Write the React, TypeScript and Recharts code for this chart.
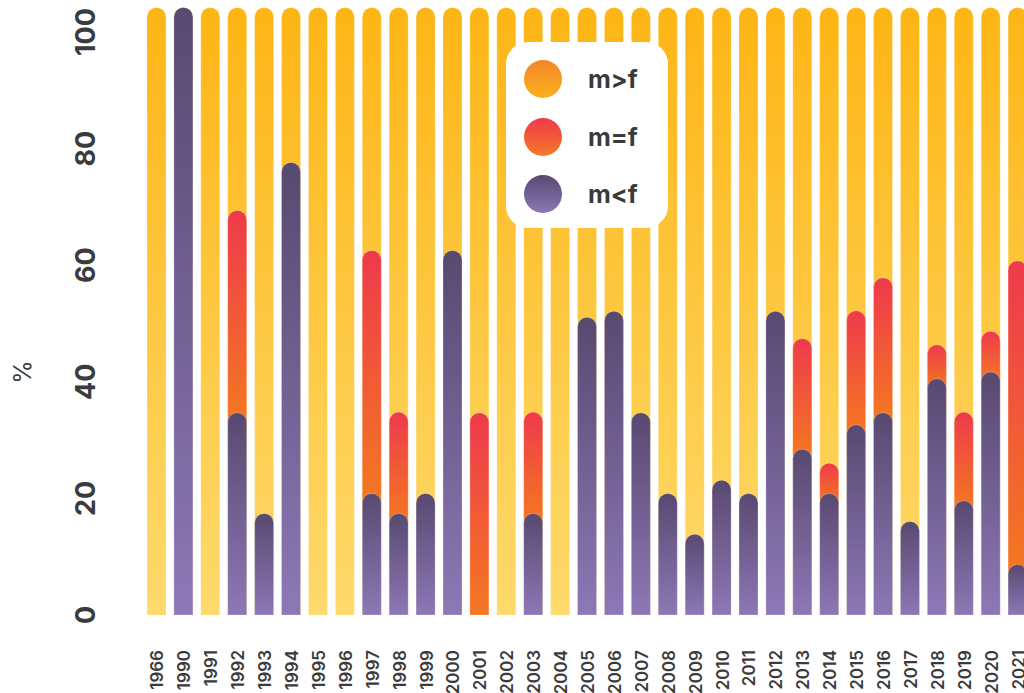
import React from "react";
import { BarChart, Bar, XAxis, YAxis, Legend } from "recharts";

const years = [
  "1966", "1990", "1991", "1992", "1993", "1994", "1995", "1996", "1997", "1998", "1999",
  "2000", "2001", "2002", "2003", "2004", "2005", "2006", "2007", "2008", "2009", "2010",
  "2011", "2012", "2013", "2014", "2015", "2016", "2017", "2018", "2019", "2020", "2021",
];

// share of cases (%)
const mLessF = [
  0, 100, 0, 33.3, 16.7, 74.5, 0, 0, 20, 16.7, 20,
  60, 0, 0, 16.7, 0, 49, 50, 33.3, 20, 13.3, 22.2,
  20, 50, 27.3, 20, 31.3, 33.3, 15.4, 38.9, 18.8, 40, 8.3,
];
const mEqualF = [
  0, 0, 0, 33.3, 0, 0, 0, 0, 40, 16.7, 0,
  0, 33.3, 0, 16.7, 0, 0, 0, 0, 0, 0, 0,
  0, 0, 18.2, 5, 18.8, 22.2, 0, 5.6, 14.6, 6.7, 50,
];
const mGreaterF = [
  100, 0, 100, 33.4, 83.3, 25.5, 100, 100, 40, 66.6, 80,
  40, 66.7, 100, 66.6, 100, 51, 50, 66.7, 80, 86.7, 77.8,
  80, 50, 54.5, 75, 49.9, 44.5, 84.6, 55.5, 66.6, 53.3, 41.7,
];

const yTicks = [0, 20, 40, 60, 80, 100];

const legendItems = [
  { label: "m>f", from: "#F4862A", to: "#FBB01C" },
  { label: "m=f", from: "#EE3A4C", to: "#F47A28" },
  { label: "m<f", from: "#584970", to: "#8C77B6" },
];

const data = years.map((year, i) => ({
  year,
  less: [0, mLessF[i]],
  equal: [mLessF[i], mLessF[i] + mEqualF[i]],
  greater: [0, mLessF[i] + mEqualF[i] + mGreaterF[i]],
  lessVal: mLessF[i],
  equalVal: mEqualF[i],
}));

const TEXT = "#3b3b3d";
const FONT = "Inter, 'Noto Sans', sans-serif";

function capPath(x: number, y: number, w: number, h: number) {
  const r = Math.min(w / 2, h);
  return `M${x},${y + h} L${x},${y + r} A${r},${r} 0 0 1 ${x + r},${y} L${x + w - r},${y} A${r},${r} 0 0 1 ${x + w},${y + r} L${x + w},${y + h} Z`;
}

function makeShape(fill: string, kind: "less" | "equal" | "greater") {
  return (props: any) => {
    const { x, y, width, height, payload } = props;
    if (kind === "equal" && !(payload.equalVal > 0)) return <g />;
    if (kind === "less" && !(payload.lessVal > 0)) return <g />;
    let h = height;
    if (kind === "equal" && payload.lessVal > 0) h = height + width / 2;
    if (!(h > 0)) return <g />;
    return <path d={capPath(x, y, width, h)} fill={fill} stroke="#ffffff" strokeOpacity={0.25} strokeWidth={1} />;
  };
}

const YTick = (props: any) => {
  const { x, y, payload } = props;
  return (
    <text
      transform={`translate(${x},${y}) rotate(-90)`}
      textAnchor="middle"
      dominantBaseline="central"
      fill={TEXT}
      fontFamily={FONT}
      fontWeight={700}
      fontSize={27}
    >
      {payload.value}
    </text>
  );
};

const XTick = (props: any) => {
  const { x, y, payload } = props;
  return (
    <text
      transform={`translate(${x + 1},${y}) rotate(-90)`}
      textAnchor="end"
      dominantBaseline="central"
      fill={TEXT}
      fontFamily={FONT}
      fontWeight={600}
      fontSize={17}
    >
      {payload.value}
    </text>
  );
};

const PctLabel = (props: any) => {
  const vb = props.viewBox || { x: 0, y: 0, height: 0 };
  const cx = vb.x + 22;
  const cy = vb.y + vb.height * 0.6;
  return (
    <text
      transform={`translate(${cx},${cy}) rotate(-90)`}
      textAnchor="middle"
      dominantBaseline="central"
      fill={TEXT}
      fontFamily={FONT}
      fontSize={24}
    >
      %
    </text>
  );
};

const LegendBox = () => (
  <div
    style={{
      width: 162,
      height: 186,
      background: "#ffffff",
      borderRadius: 22,
      boxSizing: "border-box",
      paddingTop: 18,
      paddingLeft: 18,
      fontFamily: FONT,
    }}
  >
    {legendItems.map((it) => (
      <div key={it.label} style={{ display: "flex", alignItems: "center", height: 38, marginBottom: 19.5 }}>
        <div
          style={{
            width: 38,
            height: 38,
            borderRadius: "50%",
            background: `linear-gradient(180deg, ${it.from}, ${it.to})`,
          }}
        />
        <span style={{ marginLeft: 26, fontSize: 25, fontWeight: 700, color: TEXT }}>{it.label}</span>
      </div>
    ))}
  </div>
);

export default function App() {
  return (
    <div style={{ position: "fixed", left: 0, top: 0, width: 1024, height: 693, overflow: "hidden", background: "#fff" }}>
      <BarChart width={1031} height={693} data={data} margin={{ top: 7.5, right: 0, left: 0, bottom: 0 }}>
        <defs>
          <linearGradient id="gYellow" x1="0" y1="0" x2="0" y2="1">
            <stop offset="0%" stopColor="#FDB515" />
            <stop offset="100%" stopColor="#FDDA6C" />
          </linearGradient>
          <linearGradient id="gRed" x1="0" y1="0" x2="0" y2="1">
            <stop offset="0%" stopColor="#EE3A4C" />
            <stop offset="100%" stopColor="#F47821" />
          </linearGradient>
          <linearGradient id="gPurple" x1="0" y1="0" x2="0" y2="1">
            <stop offset="0%" stopColor="#584970" />
            <stop offset="100%" stopColor="#8C78B6" />
          </linearGradient>
        </defs>
        <XAxis
          xAxisId="a"
          dataKey="year"
          interval={0}
          tickLine={false}
          axisLine={false}
          tickSize={0}
          tickMargin={35}
          height={78}
          tick={<XTick />}
        />
        <XAxis xAxisId="b" dataKey="year" hide height={0} />
        <XAxis xAxisId="c" dataKey="year" hide height={0} />
        <XAxis xAxisId="d" dataKey="year" hide height={0} />
        <YAxis yAxisId="bars" type="number" domain={[0, 100]} hide width={0} />
        <YAxis
          yAxisId="ticks"
          type="number"
          domain={[0, 104.2]}
          allowDataOverflow
          ticks={yTicks}
          interval={0}
          width={143}
          tickLine={false}
          axisLine={false}
          tickSize={0}
          tickMargin={58}
          tick={<YTick />}
          label={<PctLabel />}
        />
        <Legend
          layout="vertical"
          align="center"
          verticalAlign="middle"
          content={() => <LegendBox />}
          wrapperStyle={{ position: "absolute", left: 506, top: 42, width: 162, height: 186 }}
        />
        {/* keeps the tick axis bound to the data, draws nothing */}
        <Bar
          xAxisId="d"
          yAxisId="ticks"
          dataKey="lessVal"
          legendType="none"
          isAnimationActive={false}
          shape={() => <g />}
        />
        <Bar
          xAxisId="a"
          yAxisId="bars"
          dataKey="greater"
          name="m>f"
          barSize={19}
          isAnimationActive={false}
          shape={makeShape("url(#gYellow)", "greater")}
        />
        <Bar
          xAxisId="b"
          yAxisId="bars"
          dataKey="equal"
          name="m=f"
          barSize={19}
          isAnimationActive={false}
          shape={makeShape("url(#gRed)", "equal")}
        />
        <Bar
          xAxisId="c"
          yAxisId="bars"
          dataKey="less"
          name="m<f"
          barSize={19}
          isAnimationActive={false}
          shape={makeShape("url(#gPurple)", "less")}
        />
      </BarChart>
    </div>
  );
}
